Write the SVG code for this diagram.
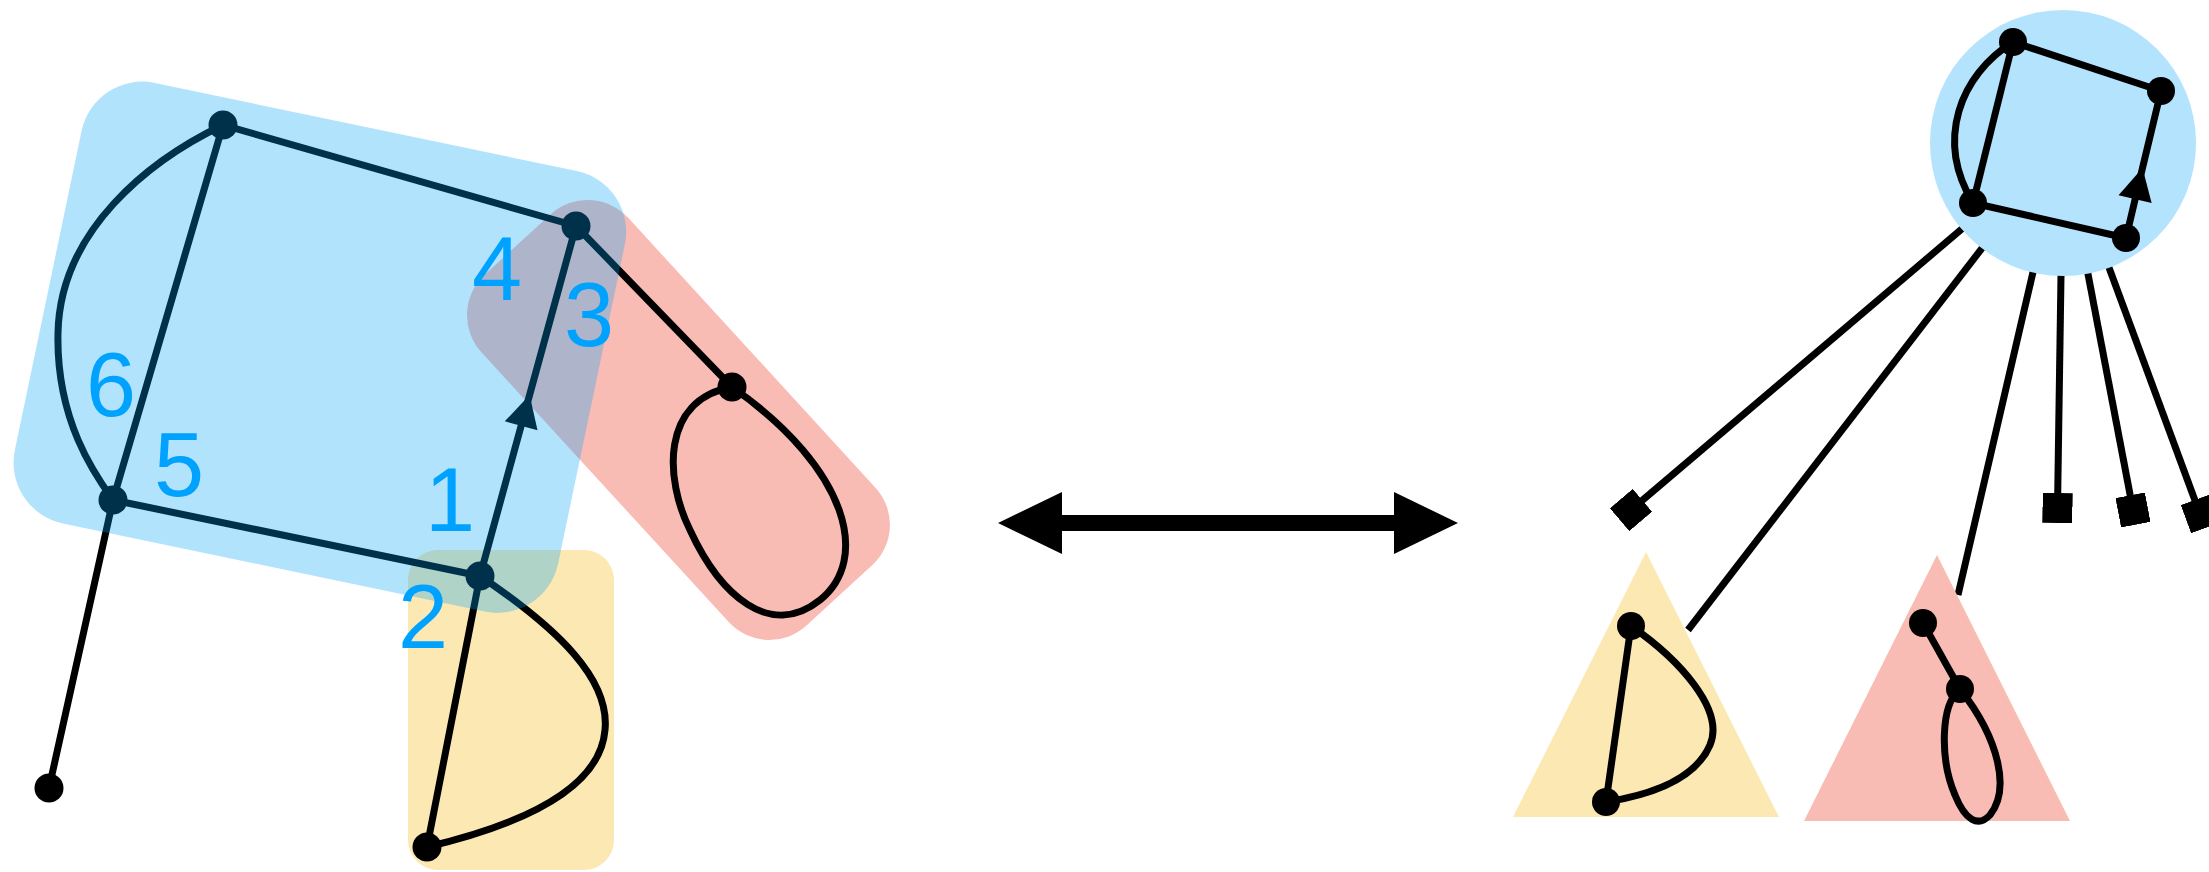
<svg xmlns="http://www.w3.org/2000/svg" width="2209" height="872" viewBox="0 0 2209 872">
<style>
.e{fill:none;stroke:#000;stroke-width:7;stroke-linecap:round}
.r{fill:none;stroke:#000;stroke-width:7;stroke-linecap:butt}
.n{fill:#000}
.lbl{font-family:"Liberation Sans",Arial,sans-serif;font-size:90px;fill:#00A2FF;text-anchor:middle}
.yel{fill:#FCE8B3}
.red{fill:#F9BCB5}
.blu{fill:#B3E3FD}
.ov{fill:#00A2F8;fill-opacity:0.3}
</style>
<defs>
<marker id="arr" markerUnits="userSpaceOnUse" viewBox="-34 -18 36 36" refX="0" refY="0" markerWidth="36" markerHeight="36" orient="auto"><path d="M0,0 L-32,-17 L-32,17 Z" fill="#000"/></marker>
<marker id="sq" markerUnits="userSpaceOnUse" viewBox="-15 -15 30 30" refX="0" refY="0" markerWidth="30" markerHeight="30" orient="auto"><rect x="-15" y="-15" width="30" height="30" fill="#000"/></marker>
</defs>
<rect width="2209" height="872" fill="#fff"/>

<g id="groups-left">
<rect id="hull-red" class="red" x="530" y="-316" width="476" height="199" rx="55" transform="rotate(47.5)"/>
<rect id="hull-yellow" class="yel" x="408" y="550" width="206" height="320" rx="30"/>
</g>

<g id="connectors">
<path class="e" d="M223,125 L576,226"/>
<path class="e" d="M223,125 L113,500"/>
<path class="e" d="M223,125 C150,160 60,230 58,333 C56,420 95,475 113,500"/>
<path class="e" d="M113,500 L480,576"/>
<path class="e" d="M480,576 L529.6,395 L576,226" marker-mid="url(#arr)"/>
<path class="e" d="M113,500 L49,788"/>
<path class="e" d="M480,576 L427,847"/>
<path class="e" d="M480,576 C560,630 610,680 605,730 C600,790 520,825 427,847"/>
<path class="e" d="M576,226 L732,387"/>
<path class="e" d="M732,387 C660,400 665,480 690,530 C720,595 770,640 820,600 C870,560 850,470 732,387"/>
<path d="M998,523 L1062,492 L1062,515 L1394,515 L1394,492 L1458,523 L1394,554 L1394,531 L1062,531 L1062,554 Z" fill="#000"/>
<path class="r" d="M2063,143 L1631,510" marker-end="url(#sq)"/>
<path class="r" d="M2063,143 L1688,630"/>
<path class="r" d="M2063,143 L1958,595"/>
<path class="r" d="M2063,143 L2057.5,508" marker-end="url(#sq)"/>
<path class="r" d="M2063,143 L2133,510" marker-end="url(#sq)"/>
<path class="r" d="M2063,143 L2200,514" marker-end="url(#sq)"/>
</g>

<g id="groups-right">
<circle id="group-blue" class="blu" cx="2063" cy="143" r="133"/>
<polygon id="group-yellow" class="yel" points="1646,552 1513,817 1779,817"/>
<polygon id="group-red" class="red" points="1937,555 1804,821 2070,821"/>
</g>

<g id="connectors-right">
<path class="r" d="M2013,42 L2161,91"/>
<path class="r" d="M2013,42 L1973,203"/>
<path class="r" d="M2013,42 C1960,75 1935,140 1973,203"/>
<path class="r" d="M1973,203 L2126,238"/>
<path class="r" d="M2126,238 L2142.5,168 L2161,91" marker-mid="url(#arr)"/>
<path class="r" d="M1631,626 L1606,802"/>
<path class="r" d="M1631,626 C1680,660 1725,710 1710,745 C1695,780 1650,795 1606,802"/>
<path class="r" d="M1923,623 L1960,689"/>
<path class="r" d="M1960,689 C1940,705 1940,760 1955,795 C1965,820 1978,828 1990,815 C2010,790 2000,740 1960,689"/>
</g>

<g id="nodes">
<g id="nA"><circle class="n" cx="223" cy="125" r="14.5"/></g>
<g id="nB"><circle class="n" cx="576" cy="226" r="14.5"/></g>
<g id="nC"><circle class="n" cx="113" cy="500" r="14.5"/></g>
<g id="nD"><circle class="n" cx="480" cy="576" r="14.5"/></g>
<g id="nE"><circle class="n" cx="732" cy="387" r="14.5"/></g>
<g id="nF"><circle class="n" cx="427" cy="847" r="14.5"/></g>
<g id="nG"><circle class="n" cx="49" cy="788" r="14.5"/></g>
<g id="r1"><circle class="n" cx="2013" cy="42" r="14"/></g>
<g id="r2"><circle class="n" cx="2161" cy="91" r="14"/></g>
<g id="r3"><circle class="n" cx="1973" cy="203" r="14"/></g>
<g id="r4"><circle class="n" cx="2126" cy="238" r="14"/></g>
<g id="y1"><circle class="n" cx="1631" cy="626" r="14"/></g>
<g id="y2"><circle class="n" cx="1606" cy="802" r="14"/></g>
<g id="p1"><circle class="n" cx="1923" cy="623" r="14"/></g>
<g id="p2"><circle class="n" cx="1960" cy="689" r="14"/></g>
</g>

<g id="group-blue-left">
<rect class="ov" x="106.6" y="49.5" width="555" height="450" rx="62" transform="rotate(11.8)"/>
</g>

<g id="labels">
<text class="lbl" x="111" y="416">6</text>
<text class="lbl" x="179" y="496">5</text>
<text class="lbl" x="497" y="300">4</text>
<text class="lbl" x="589" y="346">3</text>
<text class="lbl" x="450" y="531">1</text>
<text class="lbl" x="423" y="648">2</text>
</g>
</svg>
